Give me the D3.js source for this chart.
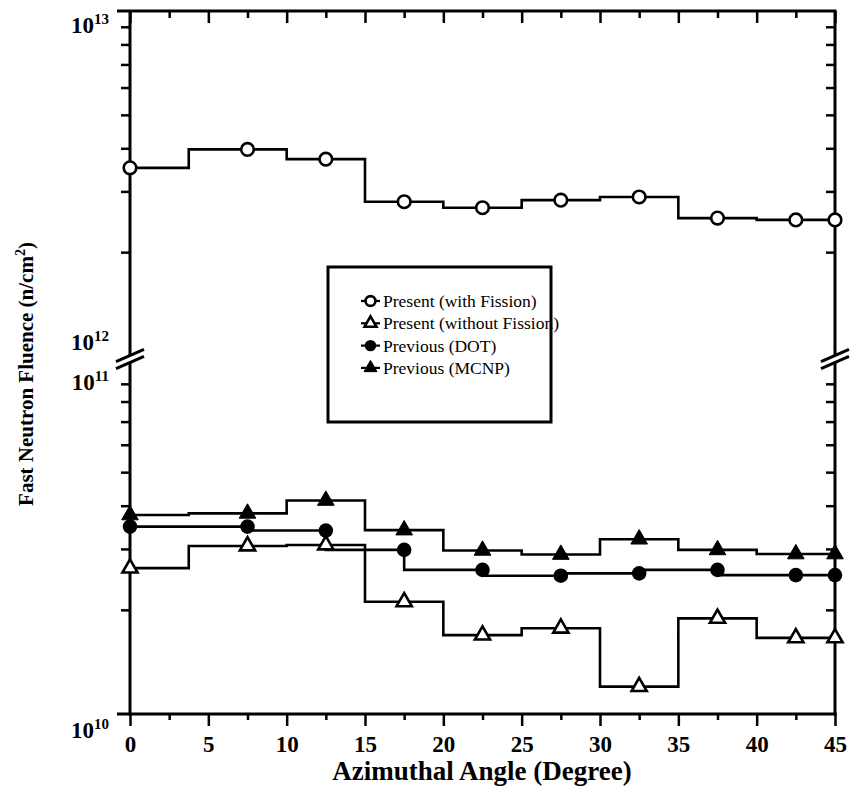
<!DOCTYPE html>
<html><head><meta charset="utf-8">
<script src="https://cdn.jsdelivr.net/npm/d3@7"></script>
<style>body{margin:0;background:#fff}</style>
</head><body><svg id="c" width="851" height="805"></svg>
<script>
// ---- data ----
const angles = [0, 7.5, 12.5, 17.5, 22.5, 27.5, 32.5, 37.5, 42.5, 45];
const binEdges = [0, 3.75, 10, 15, 20, 25, 30, 35, 40, 45];
const presentWithFission    = [3.51e12, 3.97e12, 3.72e12, 2.80e12, 2.69e12, 2.83e12, 2.89e12, 2.51e12, 2.48e12, 2.48e12];
const presentWithoutFission = [2.64e10, 3.06e10, 3.08e10, 2.11e10, 1.69e10, 1.77e10, 1.20e10, 1.89e10, 1.66e10, 1.66e10];
const previousDOT           = [3.48e10, 3.48e10, 3.39e10, 2.98e10, 2.61e10, 2.51e10, 2.55e10, 2.61e10, 2.52e10, 2.52e10];
const previousMCNP          = [3.76e10, 3.80e10, 4.14e10, 3.40e10, 2.97e10, 2.89e10, 3.20e10, 2.98e10, 2.90e10, 2.90e10];
const xTicks = [0, 5, 10, 15, 20, 25, 30, 35, 40, 45];
const xMinorTicks = [2.5, 7.5, 12.5, 17.5, 22.5, 27.5, 32.5, 37.5, 42.5];
const yLabelExps = [13, 12, 11, 10];
const legendLabels = ["Present (with Fission)", "Present (without Fission)", "Previous (DOT)", "Previous (MCNP)"];
const xTitle = "Azimuthal Angle (Degree)";
const yTitle = "Fast Neutron Fluence (n/cm";

// ---- layout ----
const L = 130, R = 835, T = 11, B = 714;
const svg = d3.select("#c");
const FONT = '"Liberation Serif"';

const x = d3.scaleLinear().domain([0, 45]).range([L, R]);
const yUp = d3.scaleLog().domain([1e12, 1e13]).range([356, T]);
const yLo = d3.scaleLog().domain([1e10, 1e11]).range([B, 368]);
const y = v => v >= 1e12 ? yUp(v) : yLo(v);

const minorUp = d3.range(2, 10).map(m => m * 1e12);
const minorLo = d3.range(2, 10).map(m => m * 1e10);

// y axes (left and right, ticks pointing left)
[L, R].forEach(px => {
  [[yUp, minorUp], [yLo, minorLo]].forEach(([sc, tv]) => {
    const g = svg.append("g").attr("transform", `translate(${px},0)`)
      .call(d3.axisLeft(sc).tickValues(tv).tickSize(9).tickSizeOuter(0).tickFormat(""));
    g.select(".domain").remove();
    g.selectAll("line").attr("stroke", "#000").attr("stroke-width", 2.5);
  });
  svg.append("line").attr("x1", px).attr("x2", px).attr("y1", T).attr("y2", 356)
    .attr("stroke", "#000").attr("stroke-width", 3);
  svg.append("line").attr("x1", px).attr("x2", px).attr("y1", 362).attr("y2", B + 1.5)
    .attr("stroke", "#000").attr("stroke-width", 3);
  [355.5, 362.5].forEach(cy => {
    svg.append("line").attr("x1", px - 14).attr("y1", cy + 6.2).attr("x2", px + 14).attr("y2", cy - 6.2)
      .attr("stroke", "#000").attr("stroke-width", 3);
  });
});

// x axes
function xAxis(yPos, gen, labels) {
  const g = svg.append("g").attr("transform", `translate(0,${yPos})`).call(gen);
  g.select(".domain").remove();
  g.selectAll("line").attr("stroke", "#000").attr("stroke-width", 2.5);
  if (labels) g.selectAll("text").style("font-family", FONT).style("font-size", "23px")
      .style("font-weight", "bold").attr("fill", "#000");
  return g;
}
xAxis(B, d3.axisBottom(x).tickValues(xTicks).tickSize(12).tickPadding(10).tickFormat(d3.format("d")), true);
xAxis(B, d3.axisBottom(x).tickValues(xMinorTicks).tickSize(6).tickFormat(""), false);
xAxis(T, d3.axisBottom(x).tickValues(xTicks).tickSize(12).tickFormat(""), false);
xAxis(T, d3.axisBottom(x).tickValues(xMinorTicks).tickSize(7).tickFormat(""), false);
svg.append("line").attr("x1", L - 13).attr("x2", R + 1.5).attr("y1", T).attr("y2", T).attr("stroke", "#000").attr("stroke-width", 3);
svg.append("line").attr("x1", L - 13).attr("x2", R + 1.5).attr("y1", B).attr("y2", B).attr("stroke", "#000").attr("stroke-width", 3);

// y labels
yLabelExps.forEach(e => {
  const v = Math.pow(10, e);
  const off = e === 12 ? -6 : (e === 10 ? 24 : 22);
  const t = svg.append("text").attr("x", 109).attr("y", y(v) + off)
    .attr("text-anchor", "end").style("font-family", FONT).style("font-weight", "bold")
    .style("font-size", "23px").text("10");
  t.append("tspan").style("font-size", "15px").attr("dy", -9).text(String(e));
});

// series
const lineGen = curve => d3.line().x(d => x(d[0])).y(d => y(d[1])).curve(curve);
const binPts = vals => binEdges.map((e, i) => [e, vals[i]]);
const markerPts = vals => angles.map((a, i) => [a, vals[i]]);

function drawLine(pts, curve) {
  svg.append("path").datum(pts).attr("d", lineGen(curve)).attr("fill", "none")
    .attr("stroke", "#000").attr("stroke-width", 2.6);
}
drawLine(binPts(presentWithFission), d3.curveStepAfter);
drawLine(binPts(presentWithoutFission), d3.curveStepAfter);
drawLine(binPts(previousMCNP), d3.curveStepAfter);
drawLine(markerPts(previousDOT), d3.curveStepBefore);

const triSize = 100;
function drawMarkers(vals, kind) {
  const g = svg.append("g");
  markerPts(vals).forEach(d => drawMarker(g, x(d[0]), y(d[1]), kind, 1));
}
function drawMarker(g, cx, cy, kind, s) {
  if (kind === "oc") g.append("circle").attr("cx", cx).attr("cy", cy).attr("r", 6.3 * s)
      .attr("fill", "#fff").attr("stroke", "#000").attr("stroke-width", 2.6);
  if (kind === "fc") g.append("circle").attr("cx", cx).attr("cy", cy).attr("r", 7.3 * s).attr("fill", "#000");
  if (kind === "ot") g.append("path").attr("transform", `translate(${cx},${cy})`)
      .attr("d", d3.symbol(d3.symbolTriangle, triSize * s * s)()).attr("fill", "#fff")
      .attr("stroke", "#000").attr("stroke-width", 2.6);
  if (kind === "ft") g.append("path").attr("transform", `translate(${cx},${cy})`)
      .attr("d", d3.symbol(d3.symbolTriangle, triSize * 1.2 * s * s)()).attr("fill", "#000")
      .attr("stroke", "#000").attr("stroke-width", 1);
}
drawMarkers(previousMCNP, "ft");
drawMarkers(previousDOT, "fc");
drawMarkers(presentWithoutFission, "ot");
drawMarkers(presentWithFission, "oc");

// legend
const lg = svg.append("g");
lg.append("rect").attr("x", 328).attr("y", 267).attr("width", 223).attr("height", 155)
  .attr("fill", "#fff").attr("stroke", "#000").attr("stroke-width", 3);
const kinds = ["oc", "ot", "fc", "ft"];
legendLabels.forEach((lab, i) => {
  const cy = 301 + i * 22.3;
  lg.append("line").attr("x1", 361).attr("x2", 380).attr("y1", cy).attr("y2", cy)
    .attr("stroke", "#000").attr("stroke-width", 2.2);
  drawMarker(lg, 370.5, cy, kinds[i], 0.78);
  lg.append("text").attr("x", 383).attr("y", cy + 6).style("font-family", FONT)
    .style("font-size", "17.5px").attr("fill", "#000").text(lab);
});

// titles
svg.append("text").attr("x", 482).attr("y", 780).attr("text-anchor", "middle")
  .style("font-family", FONT).style("font-weight", "bold").style("font-size", "27px").text(xTitle);
const yt = svg.append("text").attr("transform", "translate(33,374) rotate(-90)").attr("text-anchor", "middle")
  .style("font-family", FONT).style("font-weight", "bold").style("font-size", "21px").text(yTitle);
yt.append("tspan").style("font-size", "14px").attr("dy", -8).text("2");
yt.append("tspan").attr("dy", 8).text(")");
</script></body></html>
